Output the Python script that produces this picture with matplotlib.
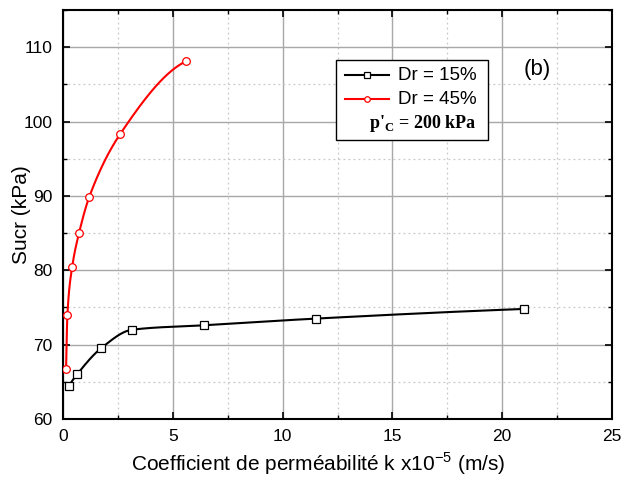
import numpy as np
import matplotlib
matplotlib.use("Agg")
import matplotlib.pyplot as plt
from matplotlib.lines import Line2D
from matplotlib.patches import Rectangle
from matplotlib.ticker import MultipleLocator

plt.rcParams['font.family'] = ['Liberation Sans', 'DejaVu Sans']
plt.rcParams['mathtext.fontset'] = 'custom'
plt.rcParams['mathtext.rm'] = 'Liberation Sans'
plt.rcParams['mathtext.bf'] = 'Liberation Serif:bold'

# Data
k_dr15 = [0.27, 0.64, 1.73, 3.14, 6.4, 11.5, 21.0]
s_dr15 = [64.5, 66.0, 69.5, 72.0, 72.6, 73.5, 74.8]
k_dr45 = [0.14, 0.20, 0.42, 0.73, 1.2, 2.6, 5.6]
s_dr45 = [66.7, 74.0, 80.5, 85.0, 89.9, 98.3, 108.1]
labels = ["Dr = 15%", "Dr = 45%"]
x_ticks = [0, 5, 10, 15, 20, 25]
y_ticks = [60, 70, 80, 90, 100, 110]


def pchip(x, y, xs):
    x = np.asarray(x, float); y = np.asarray(y, float)
    n = len(x)
    h = np.diff(x); d = np.diff(y) / h
    m = np.zeros(n)
    for k in range(1, n - 1):
        if d[k - 1] * d[k] <= 0:
            m[k] = 0
        else:
            w1 = 2 * h[k] + h[k - 1]; w2 = h[k] + 2 * h[k - 1]
            m[k] = (w1 + w2) / (w1 / d[k - 1] + w2 / d[k])
    def endslope(h0, h1, d0, d1):
        s = ((2 * h0 + h1) * d0 - h0 * d1) / (h0 + h1)
        if np.sign(s) != np.sign(d0):
            s = 0
        elif np.sign(d0) != np.sign(d1) and abs(s) > abs(3 * d0):
            s = 3 * d0
        return s
    m[0] = endslope(h[0], h[1], d[0], d[1])
    m[-1] = endslope(h[-1], h[-2], d[-1], d[-2])
    idx = np.clip(np.searchsorted(x, xs) - 1, 0, n - 2)
    t = (xs - x[idx]) / h[idx]
    h00 = 2 * t**3 - 3 * t**2 + 1
    h10 = t**3 - 2 * t**2 + t
    h01 = -2 * t**3 + 3 * t**2
    h11 = t**3 - t**2
    return h00 * y[idx] + h10 * h[idx] * m[idx] + h01 * y[idx + 1] + h11 * h[idx] * m[idx + 1]


W, H = 622, 478
fig = plt.figure(figsize=(W / 100, H / 100), dpi=100)
ax = fig.add_axes([63 / W, 1 - 419 / H, (612 - 63) / W, (419 - 10) / H])

for xs_, ys_, col, mk in [(k_dr15, s_dr15, 'black', 's'), (k_dr45, s_dr45, 'red', 'o')]:
    xx = np.linspace(xs_[0], xs_[-1], 400)
    ax.plot(xx, pchip(xs_, ys_, xx), color=col, lw=1.5, zorder=3)
    ax.plot(xs_, ys_, linestyle='none', marker=mk, markersize=5.5,
            markerfacecolor='white', markeredgecolor=col, markeredgewidth=0.9, zorder=4)

ax.set_xlim(0, 25)
ax.set_ylim(60, 115)
ax.set_xticks(x_ticks)
ax.set_yticks(y_ticks)
ax.xaxis.set_minor_locator(MultipleLocator(2.5))
ax.yaxis.set_minor_locator(MultipleLocator(5))
ax.grid(True, which='major', color='#a8a8a8', lw=1.0, zorder=0)
ax.grid(True, which='minor', color='#c8c8c8', lw=0.9, linestyle=(0, (1.5, 2.5)), zorder=0)
ax.tick_params(which='both', direction='in', top=True, right=True, labelsize=12.5)
ax.tick_params(which='major', length=5, width=1.2, pad=7.5)
ax.tick_params(which='minor', length=3, width=1.0)
for sp in ax.spines.values():
    sp.set_linewidth(1.5)

ax.set_xlabel("Coefficient de perméabilité k x10$^{-5}$ (m/s)", fontsize=15)
ax.set_ylabel("Sucr (kPa)", fontsize=15)
ax.xaxis.set_label_coords(0.465, -0.077)
ax.yaxis.set_label_coords(-0.058, 0.5)

# Legend box (manual)
bx0, by0 = 336, 60
bx1, by1 = 488, 140
tr = fig.transFigure
fig.patches.append(Rectangle((bx0 / W, 1 - by1 / H), (bx1 - bx0) / W, (by1 - by0) / H,
                             transform=tr, facecolor='white', edgecolor='black', lw=1.0, zorder=5))
for i, (col, mk, lab) in enumerate([('black', 's', labels[0]), ('red', 'o', labels[1])]):
    yy = 1 - (75 + i * 24) / H
    fig.lines.append(Line2D([345 / W, 389 / W], [yy, yy], transform=tr, color=col, lw=1.5, zorder=6))
    fig.lines.append(Line2D([367 / W], [yy], transform=tr, marker=mk, markersize=4,
                            markerfacecolor='white', markeredgecolor=col, markeredgewidth=0.9, zorder=7))
    fig.text(398 / W, yy, lab, fontsize=13.5, va='center', ha='left', zorder=7)
fig.text(369 / W, 1 - 124 / H, "p'$_\\mathbf{C}$ = 200 kPa", fontsize=13, va='center', ha='left',
         family='Liberation Serif', weight='bold', zorder=7)

fig.text(537 / W, 1 - 70 / H, "(b)", fontsize=16, ha='center', va='center')

fig.savefig("out.png", dpi=100)
